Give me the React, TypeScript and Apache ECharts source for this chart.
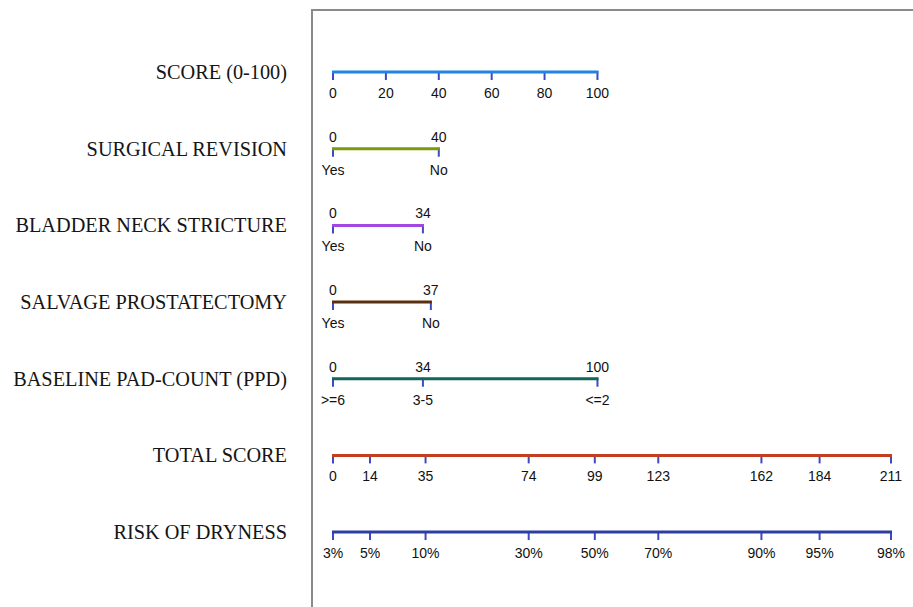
import React, { useEffect, useRef } from "react";
import * as echarts from "echarts";

const rowNames = [
  "SCORE (0-100)",
  "SURGICAL REVISION",
  "BLADDER NECK STRICTURE",
  "SALVAGE PROSTATECTOMY",
  "BASELINE PAD-COUNT (PPD)",
  "TOTAL SCORE",
  "RISK OF DRYNESS",
];

const scoreTicks = [0, 20, 40, 60, 80, 100];
const surgicalPoints = [0, 40];
const surgicalLevels = ["Yes", "No"];
const bladderPoints = [0, 34];
const bladderLevels = ["Yes", "No"];
const salvagePoints = [0, 37];
const salvageLevels = ["Yes", "No"];
const padPoints = [0, 34, 100];
const padLevels = [">=6", "3-5", "<=2"];
const totalTicks = [0, 14, 35, 74, 99, 123, 162, 184, 211];
const riskPoints = [0, 14, 35, 74, 99, 123, 162, 184, 211];
const riskValues = [0.03, 0.05, 0.1, 0.3, 0.5, 0.7, 0.9, 0.95, 0.98];

const pct = (v: number) => `${Math.round(v * 100)}%`;

type Row = { ticks: number[]; above: string[] | null; below: string[]; color: string };

const rows: Row[] = [
  { ticks: scoreTicks, above: null, below: scoreTicks.map(String), color: "#1f84e6" },
  { ticks: surgicalPoints, above: surgicalPoints.map(String), below: surgicalLevels, color: "#7b9a0a" },
  { ticks: bladderPoints, above: bladderPoints.map(String), below: bladderLevels, color: "#a246e4" },
  { ticks: salvagePoints, above: salvagePoints.map(String), below: salvageLevels, color: "#5a2f10" },
  { ticks: padPoints, above: padPoints.map(String), below: padLevels, color: "#106658" },
  { ticks: totalTicks, above: null, below: totalTicks.map(String), color: "#c2401f" },
  { ticks: riskPoints, above: null, below: riskValues.map(pct), color: "#2c3f9f" },
];

const TICK_COLOR = "#3b4cc0";
const LABEL_FAMILY = '"Liberation Sans", Arial, sans-serif';
const LABEL_SIZE = 14;

export default function App() {
  const ref = useRef<HTMLDivElement>(null);
  useEffect(() => {
    if (!ref.current) return;
    const chart = echarts.init(ref.current, null, { renderer: "svg" });
    const label = (text: string, x: number, y: number) => ({
      type: "text",
      style: {
        text,
        x,
        y,
        fontFamily: LABEL_FAMILY,
        fontSize: LABEL_SIZE,
        fill: "#111111",
        align: "center",
        verticalAlign: "middle",
        textAlign: "center",
        textVerticalAlign: "middle",
      },
    });
    chart.setOption({
      animation: false,
      backgroundColor: "#ffffff",
      grid: { left: 333, right: 22, top: 33.7, bottom: 36.6 },
      xAxis: { type: "value", min: 0, max: 211, show: false },
      yAxis: {
        type: "category",
        data: rowNames,
        inverse: true,
        axisLine: { show: false },
        axisTick: { show: false },
        splitLine: { show: false },
        axisLabel: {
          margin: 46,
          color: "#151515",
          fontFamily: '"Liberation Serif", "Times New Roman", serif',
          fontSize: 20.3,
        },
      },
      graphic: [
        { type: "line", shape: { x1: 312, y1: 10, x2: 312, y2: 607 }, style: { stroke: "#8a8a8a", lineWidth: 2 } },
        { type: "line", shape: { x1: 311, y1: 10, x2: 913, y2: 10 }, style: { stroke: "#8a8a8a", lineWidth: 2 } },
      ],
      series: [
        {
          type: "custom",
          data: rows.map((_, i) => [0, i]),
          renderItem: (params: any, api: any) => {
            const idx = api.value(1);
            const r = rows[idx];
            const y = api.coord([0, idx])[1];
            const xs = r.ticks.map((t) => api.coord([t, idx])[0]);
            const children: any[] = [];
            xs.forEach((x) => {
              children.push({
                type: "line",
                shape: { x1: x, y1: y - 1, x2: x, y2: y + 8 },
                style: { stroke: TICK_COLOR, lineWidth: 2 },
              });
            });
            children.push({
              type: "line",
              shape: { x1: xs[0] - 1, y1: y, x2: xs[xs.length - 1] + 1, y2: y },
              style: { stroke: r.color, lineWidth: 3 },
            });
            xs.forEach((x, k) => {
              if (r.above) children.push(label(r.above[k], x, y - 12));
              children.push(label(r.below[k], x, y + 21));
            });
            return { type: "group", children };
          },
        },
      ],
    });
    return () => chart.dispose();
  }, []);
  return (
    <div
      ref={ref}
      style={{ position: "absolute", left: 0, top: 0, width: 913, height: 607 }}
    />
  );
}
